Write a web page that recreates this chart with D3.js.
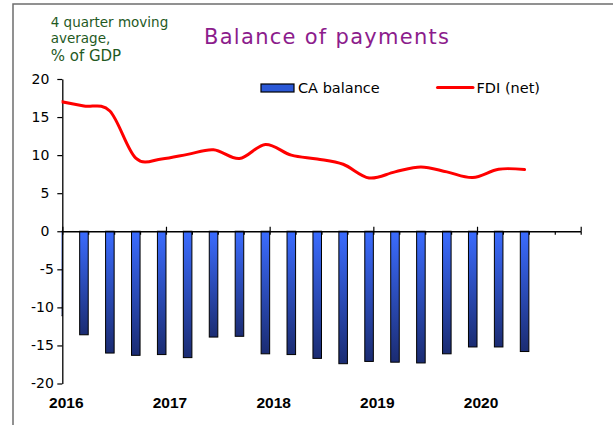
<!DOCTYPE html>
<html>
<head>
<meta charset="utf-8">
<script src="https://cdn.jsdelivr.net/npm/d3@7"></script>
<style>
  html, body { margin: 0; padding: 0; background: #fff; }
  svg { display: block; }
</style>
</head>
<body>
<div id="chart"></div>
<script>
// --- data ---
const quarters = ["2015Q4",
  "2016Q1", "2016Q2", "2016Q3", "2016Q4",
  "2017Q1", "2017Q2", "2017Q3", "2017Q4",
  "2018Q1", "2018Q2", "2018Q3", "2018Q4",
  "2019Q1", "2019Q2", "2019Q3", "2019Q4",
  "2020Q1", "2020Q2"];
const caBalance = [-11.1, -13.6, -16.0, -16.3, -16.2, -16.6, -13.9, -13.8, -16.1, -16.2,
  -16.7, -17.4, -17.1, -17.2, -17.3, -16.1, -15.2, -15.2, -15.8];
const fdiNet = [17.1, 16.45, 15.8, 9.6, 9.5, 10.1, 10.7, 9.55, 11.4, 10.0,
  9.5, 8.8, 7.0, 7.8, 8.45, 7.8, 7.05, 8.15, 8.1];
const yearLabels = ["2016", "2017", "2018", "2019", "2020"];
const yTicks = [-20, -15, -10, -5, 0, 5, 10, 15, 20];

const width = 613, height = 425;
const firstYear = 2016;

// quarter string -> position on the axis, in quarters from the start of 2016
const qPos = s => (+s.slice(0, 4) - firstYear) * 4 + (+s.slice(5) - 1);

const svg = d3.select("#chart").append("svg")
    .attr("width", width)
    .attr("height", height)
    .style("font-family", "'DejaVu Sans', sans-serif");

// Echelles
const x = d3.scaleLinear().domain([0, 20]).range([62.3, 580.7]);
const y = d3.scaleLinear().domain([-20, 20]).range([383.5, 79]);

// gradient des barres
const defs = svg.append("defs");
const grad = defs.append("linearGradient")
    .attr("id", "barGrad")
    .attr("x1", 0).attr("y1", 0).attr("x2", 0).attr("y2", 1);
grad.append("stop").attr("offset", "0%").attr("stop-color", "#3b6cff");
grad.append("stop").attr("offset", "100%").attr("stop-color", "#1b2c72");

defs.append("clipPath").attr("id", "plotClip")
    .append("rect")
    .attr("x", x(0) - 0.7).attr("y", 0)
    .attr("width", width).attr("height", height);

// cadre
svg.append("path")
    .attr("d", "M13,425 V4 H613")
    .attr("fill", "none")
    .attr("stroke", "#6e6e6e")
    .attr("stroke-width", 1.5);

// titre
svg.append("text")
    .attr("x", 204).attr("y", 43.5)
    .attr("textLength", 245)
    .attr("lengthAdjust", "spacing")
    .attr("fill", "#8c1c8c")
    .style("font-size", "21px")
    .text("Balance of payments");

// unite
const unitG = svg.append("g").attr("fill", "#1f5a1f");
unitG.append("text").attr("x", 50.7).attr("y", 27).style("font-size", "13.5px").text("4 quarter moving");
unitG.append("text").attr("x", 50.7).attr("y", 42.5).style("font-size", "13.5px").text("average,");
unitG.append("text").attr("x", 50.7).attr("y", 61).style("font-size", "15px").text("% of GDP");

// barres
const plot = svg.append("g").attr("clip-path", "url(#plotClip)");
plot.selectAll(".bar")
    .data(quarters.map((q, i) => ({q: qPos(q), v: caBalance[i]})))
    .join("rect")
    .attr("class", "bar")
    .attr("x", d => x(d.q + 0.67))
    .attr("width", d => x(d.q + 1) - x(d.q + 0.67))
    .attr("y", d => y(Math.max(0, d.v)))
    .attr("height", d => Math.abs(y(d.v) - y(0)))
    .attr("fill", "url(#barGrad)")
    .attr("stroke", "#000")
    .attr("stroke-width", 1);

// axe y
const yAxis = svg.append("g")
    .attr("transform", "translate(" + x(0) + ",0)")
    .call(d3.axisLeft(y).tickValues(yTicks).tickSize(5).tickSizeOuter(0).tickPadding(3.5)
        .tickFormat(d => String(d)));
yAxis.select(".domain").attr("stroke-width", 1.3);
yAxis.selectAll(".tick line").attr("stroke-width", 1.2);
yAxis.selectAll(".tick text")
    .style("font-size", "14px")
    .style("font-family", "'DejaVu Sans', sans-serif")
    .attr("fill", "#000")
    .attr("dx", d => d >= 0 ? -4.5 : 0);

// axe x (au niveau de 0)
const xAxisMajor = svg.append("g")
    .attr("transform", "translate(0," + y(0) + ")")
    .call(d3.axisBottom(x).tickValues(d3.range(0, 21, 4)).tickSize(-4.5).tickSizeOuter(0).tickFormat(""));
xAxisMajor.select(".domain").attr("stroke-width", 1.3);
xAxisMajor.selectAll(".tick line").attr("stroke-width", 1.2);
const xAxisMinor = svg.append("g")
    .attr("transform", "translate(0," + y(0) + ")")
    .call(d3.axisBottom(x).tickValues(d3.range(0, 21)).tickSize(3.5).tickSizeOuter(0).tickFormat(""));
xAxisMinor.select(".domain").remove();
xAxisMinor.selectAll(".tick line").attr("stroke-width", 1.2);

svg.append("g").selectAll("text")
    .data(yearLabels)
    .join("text")
    .attr("x", d => x((+d - firstYear) * 4) + 4)
    .attr("y", 408)
    .attr("text-anchor", "middle")
    .style("font-family", "'Liberation Sans', Arial, sans-serif")
    .style("font-weight", "bold")
    .style("font-size", "15.5px")
    .text(d => d);

// courbe FDI
const line = d3.line()
    .x(d => x(d.q + 0.835))
    .y(d => y(d.v))
    .curve(d3.curveCatmullRom.alpha(0));
svg.append("g").attr("clip-path", "url(#plotClip)")
    .append("path")
    .datum(quarters.map((q, i) => ({q: qPos(q), v: fdiNet[i]})))
    .attr("d", line)
    .attr("fill", "none")
    .attr("stroke", "#ff0000")
    .attr("stroke-width", 3)
    .attr("stroke-linecap", "round");

// legende
const legend = svg.append("g").style("font-size", "14.5px");
legend.append("rect")
    .attr("x", 261).attr("y", 84).attr("width", 33).attr("height", 8)
    .attr("fill", "#2b58d6").attr("stroke", "#000").attr("stroke-width", 1.2);
legend.append("text").attr("x", 298).attr("y", 92.5).text("CA balance");
legend.append("line")
    .attr("x1", 437.5).attr("x2", 473).attr("y1", 87.5).attr("y2", 87.5)
    .attr("stroke", "#ff0000").attr("stroke-width", 3).attr("stroke-linecap", "round");
legend.append("text").attr("x", 476.5).attr("y", 92.5).text("FDI (net)");
</script>
</body>
</html>
